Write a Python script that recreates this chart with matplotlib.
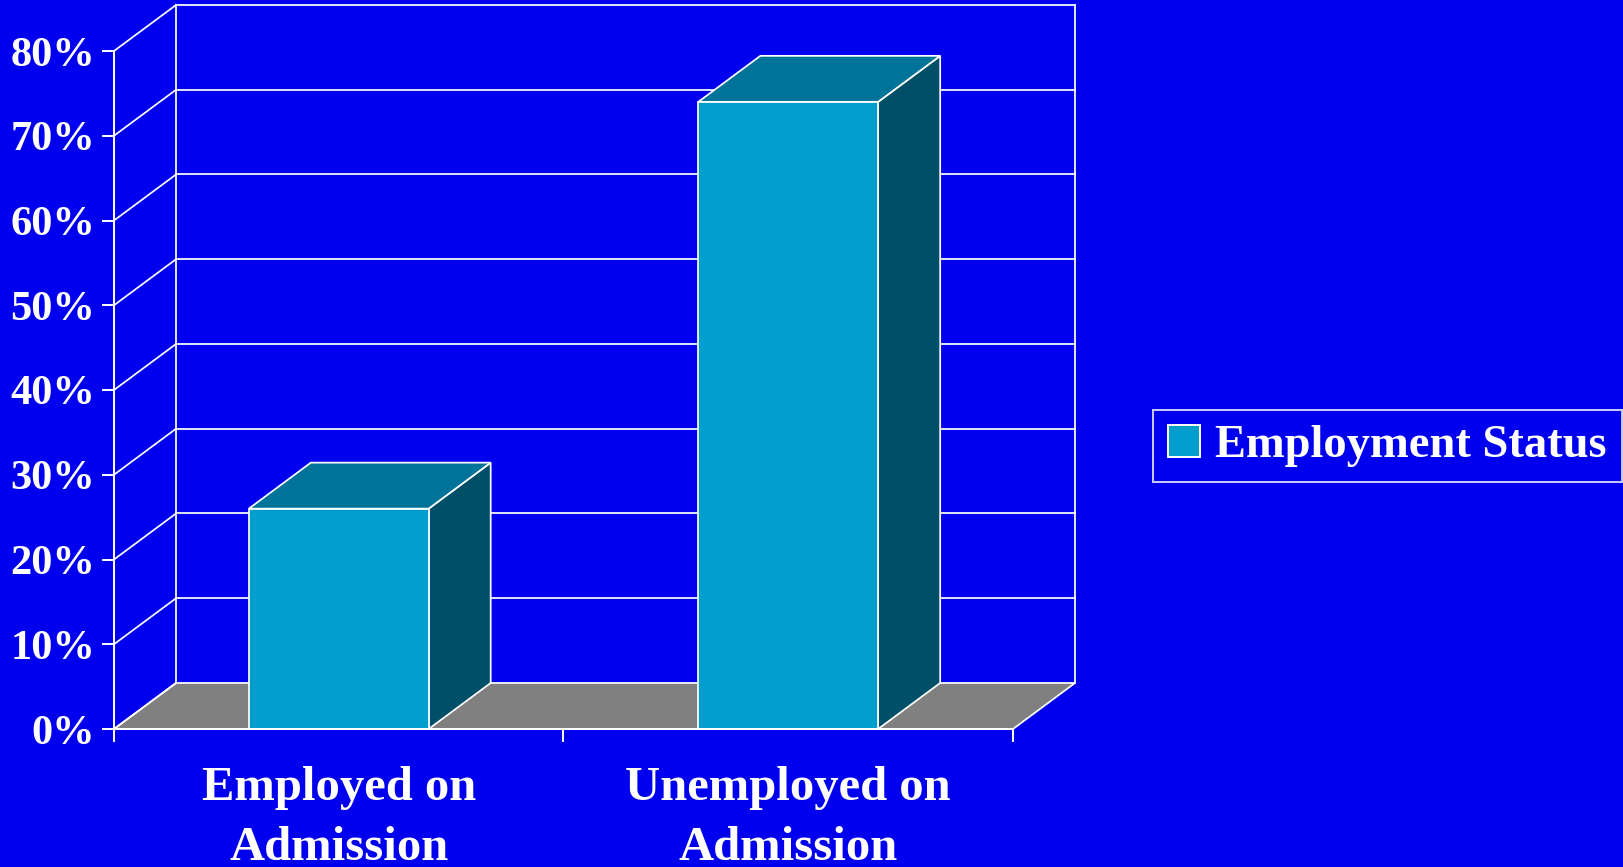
import matplotlib
matplotlib.use("Agg")
import matplotlib.pyplot as plt
from matplotlib.patches import Polygon, Patch

# data
categories = ["Employed on\nAdmission", "Unemployed on\nAdmission"]
employment_pct = [26, 74]
series_name = "Employment Status"
y_ticks = [0, 10, 20, 30, 40, 50, 60, 70, 80]
y_labels = [f"{v}%" for v in y_ticks]

# colours / style
BG = "#0000EE"
FLOOR = "#808080"
FRONT = "#009ECC"
TOP = "#007399"
SIDE = "#004F68"
LINE = "white"
LW = 1.25
DX, DY = 0.138, 5.43      # depth offset of the 3-D box (data units)
BAR_W = 0.4

plt.rcParams["font.family"] = ["Liberation Serif", "DejaVu Serif"]
plt.rcParams["font.weight"] = "bold"

W, H = 1624, 867
fig = plt.figure(figsize=(W / 100, H / 100), dpi=100, facecolor=BG)
ax = fig.add_axes([114 / W, (H - 729) / H, 899 / W, 678 / H])
ax.set_facecolor("none")
ax.set_xlim(-0.5, len(categories) - 0.5)
ax.set_ylim(0, y_ticks[-1])

x0, x1 = -0.5, len(categories) - 0.5
ymax = y_ticks[-1]

def seg(xs, ys, z=1):
    ax.plot(xs, ys, color=LINE, lw=LW, clip_on=False, zorder=z,
            solid_capstyle="projecting")

# floor
ax.add_patch(Polygon([(x0, 0), (x1, 0), (x1 + DX, DY), (x0 + DX, DY)],
                     closed=True, facecolor=FLOOR, edgecolor=LINE, lw=LW,
                     clip_on=False, zorder=1))

# back wall and side wall gridlines
for v in y_ticks:
    seg([x0, x0 + DX], [v, v + DY])
    if v > 0:
        seg([x0 + DX, x1 + DX], [v + DY, v + DY])
seg([x0 + DX, x0 + DX], [DY, ymax + DY])
seg([x1 + DX, x1 + DX], [DY, ymax + DY])

# 3-D bars
for i, v in enumerate(employment_pct):
    l, r = i - BAR_W / 2, i + BAR_W / 2
    side = [(r, 0), (r + DX, DY), (r + DX, v + DY), (r, v)]
    top = [(l, v), (r, v), (r + DX, v + DY), (l + DX, v + DY)]
    front = [(l, 0), (r, 0), (r, v), (l, v)]
    for pts, col in ((side, SIDE), (top, TOP), (front, FRONT)):
        ax.add_patch(Polygon(pts, closed=True, facecolor=col, edgecolor=LINE,
                             lw=LW, clip_on=False, zorder=3))

# axes
for s in ("top", "right"):
    ax.spines[s].set_visible(False)
for s in ("left", "bottom"):
    ax.spines[s].set_color(LINE)
    ax.spines[s].set_linewidth(1.4)
    ax.spines[s].set_zorder(4)

ax.set_yticks(y_ticks, y_labels)
ax.tick_params(axis="y", colors=LINE, length=8.6, width=1.4, pad=5,
               labelsize=30.5, labelcolor="white")
ax.set_xticks(range(len(categories)), categories)
ax.set_xticks([x0 + k for k in range(len(categories) + 1)], minor=True)
ax.tick_params(axis="x", which="major", length=0, pad=27, labelsize=35,
               labelcolor="white")
ax.tick_params(axis="x", which="minor", length=9, width=1.4, colors=LINE)
for t in ax.get_xticklabels():
    t.set_linespacing(1.45)

# legend
leg = fig.legend([Patch(facecolor=FRONT, edgecolor=LINE, lw=1.4)], [series_name],
                 loc="center left", bbox_to_anchor=(1153 / W, 1 - 446 / H),
                 fontsize=33.5, frameon=True, fancybox=False, borderaxespad=0,
                 handlelength=0.68, handleheight=0.68, handletextpad=0.33,
                 borderpad=0.33)
leg.get_frame().set_facecolor(BG)
leg.get_frame().set_edgecolor(LINE)
leg.get_frame().set_linewidth(1.4)
for t in leg.get_texts():
    t.set_color("white")

fig.savefig("out.png", dpi=100, facecolor=BG)
